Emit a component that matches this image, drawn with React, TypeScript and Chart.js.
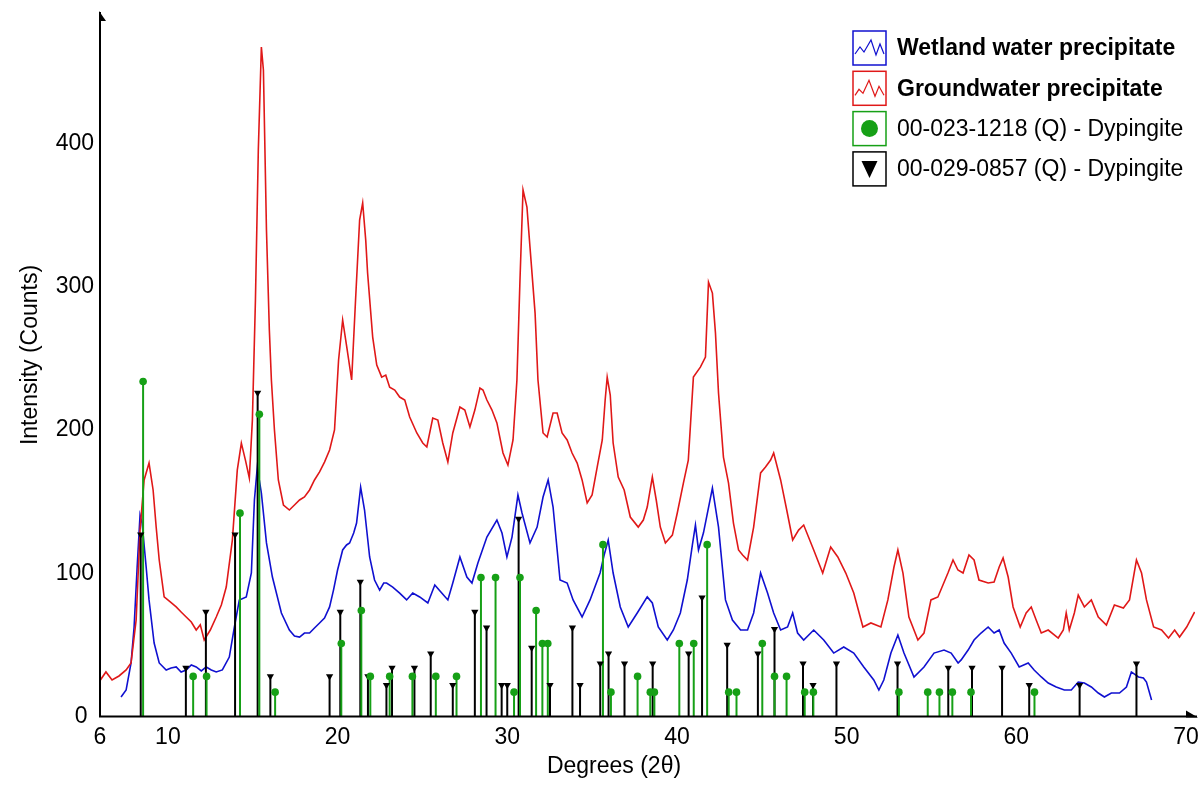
import React, { useEffect, useRef } from "react";
import { Chart, registerables } from "chart.js";

Chart.register(...registerables);

const xTicks = [6, 10, 20, 30, 40, 50, 60, 70];
const yTicks = [0, 100, 200, 300, 400];

const xTitle = "Degrees (2θ)";
const yTitle = "Intensity (Counts)";

const seriesNames = [
  "Wetland water precipitate",
  "Groundwater precipitate",
  "00-023-1218 (Q) - Dypingite",
  "00-029-0857 (Q) - Dypingite",
];

const wetlandX = [
  7.24, 7.54, 7.83, 8.01, 8.19, 8.36, 8.48, 8.72, 8.89, 9.19,
  9.49, 9.9, 10.19, 10.49, 10.78, 11.08, 11.38, 11.67, 11.97, 12.26,
  12.56, 12.85, 13.21, 13.62, 13.92, 14.21, 14.62, 14.92, 15.1, 15.27,
  15.51, 15.81, 16.16, 16.69, 17.16, 17.46, 17.76, 18.05, 18.35, 18.64,
  18.94, 19.23, 19.53, 19.76, 20.0, 20.3, 20.53, 20.71, 20.95, 21.12,
  21.36, 21.59, 21.89, 22.18, 22.48, 22.72, 22.89, 23.25, 23.66, 24.07,
  24.43, 24.84, 25.32, 25.73, 26.14, 26.5, 26.79, 27.21, 27.62, 27.92,
  28.27, 28.8, 29.39, 29.69, 29.98, 30.28, 30.63, 30.87, 31.34, 31.76,
  32.11, 32.41, 32.7, 33.11, 33.53, 33.88, 34.41, 34.88, 35.47, 35.71,
  35.95, 36.24, 36.66, 37.13, 37.66, 38.25, 38.55, 38.9, 39.43, 39.79,
  40.2, 40.61, 40.91, 41.09, 41.27, 41.56, 42.09, 42.45, 42.86, 43.27,
  43.75, 44.16, 44.52, 44.93, 45.34, 45.7, 46.11, 46.52, 46.82, 47.11,
  47.47, 48.06, 48.65, 49.24, 49.83, 50.42, 51.01, 51.6, 51.9, 52.19,
  52.61, 53.02, 53.38, 53.97, 54.56, 55.15, 55.74, 56.16, 56.57, 56.75,
  57.16, 57.51, 57.92, 58.34, 58.69, 58.99, 59.28, 59.7, 60.17, 60.7,
  61.05, 61.47, 61.88, 62.35, 62.83, 63.24, 63.65, 64.01, 64.42, 64.83,
  65.19, 65.6, 66.08, 66.49, 66.78, 67.2, 67.49, 67.67, 67.97,
];
const wetlandY = [
  13.6, 18.5, 37.4, 62.5, 104.4, 140.7, 135.1, 104.4, 81.4, 51.3,
  37.4, 32.5, 33.9, 34.6, 31.1, 32.5, 36, 34.6, 31.8, 34.6,
  32.5, 31.1, 32.5, 41.5, 62.5, 81.4, 83.5, 100.2, 151.2, 174.2,
  156.1, 121.2, 97.4, 72.3, 60.4, 56.2, 55.5, 58.3, 58.3, 61.8,
  65.3, 68.8, 76.5, 88.3, 102.3, 116.3, 119.8, 121.2, 128.1, 135.1,
  160.2, 144.2, 111.4, 95.3, 88.3, 93.2, 93.2, 90.4, 86.2, 81.4,
  86.2, 83.5, 79.3, 91.8, 86.2, 81.4, 93.2, 111.4, 97.4, 93.2,
  107.2, 125.3, 137.2, 128.1, 111.4, 125.3, 154.7, 142.1, 121.2, 132.3,
  153.3, 165.2, 146.3, 95.3, 93.2, 81.4, 69.5, 81.4, 100.2, 112.8,
  123.2, 100.2, 76.5, 62.5, 72.3, 83.5, 79.3, 62.5, 53.4, 60.4,
  72.3, 95.3, 119.8, 133.7, 116.3, 128.1, 159.5, 132.3, 81.4, 67.4,
  60.4, 60.4, 72.3, 100.2, 86.2, 72.3, 60.4, 62.5, 72.3, 58.3,
  53.4, 60.4, 53.4, 44.3, 48.5, 44.3, 34.6, 25.5, 18.5, 25.5,
  44.3, 56.9, 44.3, 27.6, 34.6, 44.3, 46.4, 44.3, 37.4, 39.5,
  46.4, 53.4, 58.3, 62.5, 58.3, 60.4, 51.3, 44.3, 34.6, 37.4,
  32.5, 27.6, 23.4, 20.6, 18.5, 18.5, 24.1, 23.4, 20.6, 16.4,
  13.6, 16.4, 16.4, 20.6, 31.1, 27.6, 26.9, 24.1, 11.5,
];

const groundX = [
  5.94, 6.35, 6.71, 7.12, 7.54, 7.83, 8.13, 8.36, 8.6, 8.89,
  9.13, 9.31, 9.49, 9.78, 10.14, 10.49, 10.78, 11.08, 11.38, 11.67,
  11.91, 12.14, 12.5, 12.85, 13.15, 13.44, 13.8, 14.09, 14.33, 14.57,
  14.8, 14.98, 15.16, 15.33, 15.51, 15.63, 15.81, 15.98, 16.1, 16.28,
  16.51, 16.81, 17.16, 17.46, 17.76, 18.05, 18.35, 18.64, 18.94, 19.23,
  19.53, 19.82, 20.06, 20.3, 20.53, 20.83, 21.06, 21.3, 21.48, 21.66,
  21.77, 22.07, 22.31, 22.6, 22.84, 23.07, 23.37, 23.66, 23.96, 24.25,
  24.67, 25.02, 25.26, 25.61, 25.91, 26.2, 26.5, 26.79, 27.21, 27.5,
  27.8, 28.09, 28.39, 28.57, 28.8, 29.1, 29.39, 29.75, 30.04, 30.34,
  30.57, 30.75, 30.93, 31.16, 31.34, 31.64, 31.81, 32.11, 32.35, 32.7,
  32.94, 33.23, 33.53, 33.82, 34.12, 34.41, 34.71, 35.0, 35.3, 35.6,
  35.77, 35.89, 36.07, 36.24, 36.54, 36.89, 37.25, 37.72, 38.02, 38.25,
  38.55, 38.78, 39.02, 39.32, 39.73, 40.02, 40.38, 40.67, 40.97, 41.38,
  41.68, 41.86, 42.09, 42.27, 42.45, 42.74, 43.04, 43.33, 43.63, 43.87,
  44.16, 44.52, 44.93, 45.22, 45.52, 45.7, 46.11, 46.47, 46.82, 47.17,
  47.47, 48.06, 48.59, 49.06, 49.48, 49.95, 50.42, 50.96, 51.43, 52.02,
  52.43, 52.79, 53.02, 53.32, 53.67, 54.2, 54.56, 54.97, 55.38, 55.97,
  56.27, 56.56, 56.86, 57.21, 57.51, 57.8, 58.34, 58.69, 58.99, 59.22,
  59.52, 59.81, 60.23, 60.58, 60.88, 61.17, 61.47, 61.88, 62.47, 62.77,
  62.94, 63.12, 63.42, 63.65, 64.01, 64.42, 64.83, 65.31, 65.78, 66.31,
  66.67, 67.08, 67.38, 67.67, 68.09, 68.56, 68.97, 69.33, 69.62, 70.04,
  70.51,
];
const groundY = [
  24.1, 31.1, 25.5, 28.3, 32.5, 37.4, 67.4, 130.2, 165.2, 177.0,
  158.2, 132.3, 109.3, 83.5, 80, 76.5, 73, 69.5, 66, 60.4,
  64, 53.4, 60.4, 69.5, 77.9, 90.4, 123.2, 172, 190.9, 179,
  166.5, 207, 290.9, 395.6, 467.5, 451.5, 339.7, 269.9, 235, 200.1,
  165.2, 147.7, 144.2, 147.7, 151.2, 153.3, 158.2, 165.2, 170.8, 177.7,
  186.1, 200.1, 249, 276.9, 259, 235, 290.9, 346.7, 358.6, 332.7,
  309.7, 265.0, 245.4, 237.0, 238.4, 230, 228, 223.1, 221, 209.1,
  198.0, 191.0, 188.2, 208.4, 207.0, 191.0, 177.7, 198.0, 216.1, 214.0,
  202.2, 214.0, 229.4, 228.0, 221.0, 214.0, 205.0, 184.0, 175.6, 193.1,
  235.0, 304.8, 367.7, 355.8, 327.8, 281.7, 235.0, 198.0, 195.2, 212.0,
  212.0, 198.0, 193.1, 184.0, 177.0, 165.2, 149.1, 154.7, 174.2, 193.1,
  221, 237.0, 224.5, 191.0, 167.2, 158.2, 139.3, 132.3, 137.2, 146.3,
  167.2, 151.2, 132.3, 121.2, 126.7, 142.1, 163.0, 179.1, 237.0, 244.0,
  251.0, 303.4, 295.7, 267.8, 225.9, 181.2, 163.0, 135.1, 116.3, 112.8,
  109.3, 132.3, 170.1, 174.2, 179.1, 184.0, 165.2, 144.2, 123.3, 130.2,
  133.7, 116.3, 100.2, 118.4, 111.4, 100.2, 86.2, 62.5, 65.3, 62.5,
  81.4, 104.4, 116.3, 100.2, 69.5, 53.4, 58.3, 81.4, 83.5, 100.2,
  109.3, 102.3, 100.2, 112.8, 109.3, 95.3, 93.2, 93.9, 104.4, 110.7,
  97.4, 76.5, 62.5, 72.3, 76.5, 67.4, 58.3, 60.4, 54.8, 60.4,
  72.3, 60.4, 72.3, 84.8, 76.5, 81.4, 69.5, 63.9, 77.9, 75.8,
  81.4, 109.3, 100.2, 81.4, 62.5, 60.4, 54.8, 60.4, 55.5, 62.5,
  73.0,
];

// Reference pattern 00-023-1218 (green, circles)
const card1218X = [
  8.54, 11.49, 12.28, 14.25, 15.39, 16.32, 20.22, 21.4, 21.93, 23.07,
  24.41, 25.79, 27.01, 28.45, 29.31, 30.4, 30.75, 31.7, 32.07, 32.39,
  35.64, 36.11, 37.68, 38.43, 38.67, 40.14, 40.99, 41.78, 43.05, 43.51,
  45.03, 45.75, 46.46, 47.53, 48.04, 53.08, 54.78, 55.47, 56.23, 57.33,
  61.07,
];
const card1218Y = [
  234, 28, 28, 142, 211, 17, 51, 74, 28, 28,
  28, 28, 28, 97, 97, 17, 97, 74, 51, 51,
  120, 17, 28, 17, 17, 51, 51, 120, 17, 17,
  51, 28, 28, 17, 17, 17, 17, 17, 17, 17,
  17,
];

// Reference pattern 00-029-0857 (black, triangles)
const card0857X = [
  8.4, 11.06, 12.24, 13.96, 15.29, 16.04, 19.53, 20.16, 21.34, 21.79,
  22.88, 23.21, 24.53, 25.49, 26.79, 28.09, 28.78, 29.67, 30.0, 30.67,
  31.44, 32.52, 33.84, 34.29, 35.48, 35.97, 36.91, 38.57, 40.69, 41.48,
  42.96, 44.77, 45.75, 47.43, 48.02, 49.4, 53.0, 55.99, 57.39, 59.16,
  60.76, 63.73, 67.08,
];
const card0857Y = [
  127, 34, 73, 127, 226, 28, 28, 73, 94, 28,
  22, 34, 34, 44, 22, 73, 62, 22, 22, 138,
  48, 22, 62, 22, 37, 44, 37, 37, 44, 83,
  50, 44, 61, 37, 22, 37, 37, 34, 34, 34,
  22, 22, 37,
];

const FONT = "'Liberation Sans', Arial, Helvetica, sans-serif";
const BLUE = "#1010d0";
const RED = "#e01818";
const GREEN = "#16a016";
const BLACK = "#000000";

function curve(xs: number[], ys: number[]) {
  return xs.map((x, i) => ({ x, y: ys[i] }));
}
function sticks(xs: number[], ys: number[]) {
  const out: { x: number; y: number | null }[] = [];
  xs.forEach((x, i) => {
    out.push({ x, y: 0 }, { x, y: ys[i] }, { x, y: null });
  });
  return out;
}

const decorPlugin = {
  id: "decor",
  afterDatasetsDraw(chart: any) {
    const { ctx, chartArea: a } = chart;
    ctx.save();
    // axes
    ctx.strokeStyle = BLACK;
    ctx.lineWidth = 2;
    ctx.beginPath();
    ctx.moveTo(a.left, a.bottom);
    ctx.lineTo(a.left, a.top);
    ctx.moveTo(a.left - 1, a.bottom);
    ctx.lineTo(a.right + 2, a.bottom);
    ctx.stroke();
    ctx.fillStyle = BLACK;
    ctx.beginPath();
    ctx.moveTo(a.left - 1, a.top - 1);
    ctx.lineTo(a.left + 6, a.top + 9);
    ctx.lineTo(a.left - 1, a.top + 9);
    ctx.closePath();
    ctx.fill();
    ctx.beginPath();
    ctx.moveTo(a.right + 3, a.bottom + 1);
    ctx.lineTo(a.right - 9, a.bottom - 6);
    ctx.lineTo(a.right - 9, a.bottom + 1);
    ctx.closePath();
    ctx.fill();

    // axis titles
    ctx.fillStyle = BLACK;
    ctx.font = "23px " + FONT;
    ctx.textAlign = "center";
    ctx.textBaseline = "middle";
    ctx.fillText(xTitle, 614, 767);
    ctx.save();
    ctx.translate(31, 355);
    ctx.rotate(-Math.PI / 2);
    ctx.fillText(yTitle, 0, 0);
    ctx.restore();

    // legend
    const colors = [BLUE, RED, GREEN, BLACK];
    const bx = 853;
    const bw = 33;
    const bh = 34;
    for (let i = 0; i < 4; i++) {
      const by = 31 + 40.3 * i;
      ctx.fillStyle = "#ffffff";
      ctx.fillRect(bx, by, bw, bh);
      ctx.strokeStyle = colors[i];
      ctx.lineWidth = 1.5;
      ctx.strokeRect(bx, by, bw, bh);
      if (i < 2) {
        const pts =
          i === 0
            ? [[2, 23], [7, 16], [11, 21], [18, 9], [23, 24], [27, 13], [31, 23]]
            : [[2, 24], [6, 18], [10, 22], [16, 9], [22, 25], [26, 15], [31, 24]];
        ctx.strokeStyle = colors[i];
        ctx.lineWidth = 1.2;
        ctx.beginPath();
        pts.forEach((p, k) => {
          if (k === 0) ctx.moveTo(bx + p[0], by + p[1]);
          else ctx.lineTo(bx + p[0], by + p[1]);
        });
        ctx.stroke();
      } else if (i === 2) {
        ctx.fillStyle = GREEN;
        ctx.beginPath();
        ctx.arc(bx + bw / 2, by + bh / 2, 8.5, 0, Math.PI * 2);
        ctx.fill();
      } else {
        ctx.fillStyle = BLACK;
        ctx.beginPath();
        ctx.moveTo(bx + bw / 2 - 8, by + 9);
        ctx.lineTo(bx + bw / 2 + 8, by + 9);
        ctx.lineTo(bx + bw / 2, by + 26);
        ctx.closePath();
        ctx.fill();
      }
      ctx.fillStyle = BLACK;
      ctx.font = (i < 2 ? "bold " : "") + "23px " + FONT;
      ctx.textBaseline = "middle";
      ctx.textAlign = "left";
      ctx.fillText(seriesNames[i], 897, by + bh / 2 + 1);
    }
    ctx.restore();
  },
};

export default function App() {
  const ref = useRef<HTMLCanvasElement | null>(null);

  useEffect(() => {
    if (!ref.current) return;
    const chart = new Chart(ref.current, {
      type: "line",
      data: {
        datasets: [
          {
            type: "scatter",
            label: seriesNames[2] + " markers",
            data: curve(card1218X, card1218Y),
            pointStyle: "circle",
            pointRadius: 3.8,
            backgroundColor: GREEN,
            borderColor: GREEN,
            borderWidth: 0,
            order: 0,
          } as any,
          {
            type: "scatter",
            label: seriesNames[3] + " markers",
            data: curve(card0857X, card0857Y),
            pointStyle: "triangle",
            rotation: 180,
            pointRadius: 4.2,
            backgroundColor: BLACK,
            borderColor: BLACK,
            borderWidth: 0,
            order: 1,
          } as any,
          {
            type: "line",
            label: seriesNames[2],
            data: sticks(card1218X, card1218Y),
            borderColor: GREEN,
            borderWidth: 2,
            pointRadius: 0,
            spanGaps: false,
            order: 2,
          },
          {
            type: "line",
            label: seriesNames[3],
            data: sticks(card0857X, card0857Y),
            borderColor: BLACK,
            borderWidth: 2,
            pointRadius: 0,
            spanGaps: false,
            order: 3,
          },
          {
            type: "line",
            label: seriesNames[1],
            data: curve(groundX, groundY),
            borderColor: RED,
            borderWidth: 1.6,
            pointRadius: 0,
            tension: 0,
            order: 4,
          },
          {
            type: "line",
            label: seriesNames[0],
            data: curve(wetlandX, wetlandY),
            borderColor: BLUE,
            borderWidth: 1.6,
            pointRadius: 0,
            tension: 0,
            order: 5,
          },
        ],
      },
      options: {
        animation: false,
        responsive: true,
        maintainAspectRatio: false,
        events: [],
        layout: { padding: { top: 12, right: 5, left: 0, bottom: 0 } },
        plugins: {
          legend: { display: false },
          tooltip: { enabled: false },
        },
        scales: {
          x: {
            type: "linear",
            min: 6,
            max: 70.53,
            afterBuildTicks: (s: any) => {
              s.ticks = xTicks.map((v) => ({ value: v }));
            },
            afterFit: (s: any) => {
              s.height = 72.5;
              s.paddingLeft = 0;
              s.paddingRight = 0;
            },
            grid: { display: false, drawTicks: false },
            border: { display: false },
            ticks: {
              color: BLACK,
              padding: 7,
              maxRotation: 0,
              autoSkip: false,
              font: { family: FONT, size: 23 },
            },
            title: { display: false },
          },
          y: {
            type: "linear",
            min: 0,
            max: 492,
            afterBuildTicks: (s: any) => {
              s.ticks = yTicks.map((v) => ({ value: v }));
            },
            afterFit: (s: any) => {
              s.width = 100;
              s.paddingTop = 0;
              s.paddingBottom = 0;
            },
            grid: { display: false, drawTicks: false },
            border: { display: false },
            ticks: {
              color: BLACK,
              padding: 6,
              font: { family: FONT, size: 23 },
              callback: (v: any) => (Number(v) === 0 ? "0 " : String(v)),
            },
            title: { display: false },
          },
        },
      },
      plugins: [decorPlugin],
    });
    return () => chart.destroy();
  }, []);

  return (
    <div style={{ position: "fixed", left: 0, top: 0, width: 1200, height: 789, background: "#fff" }}>
      <canvas ref={ref} />
    </div>
  );
}
